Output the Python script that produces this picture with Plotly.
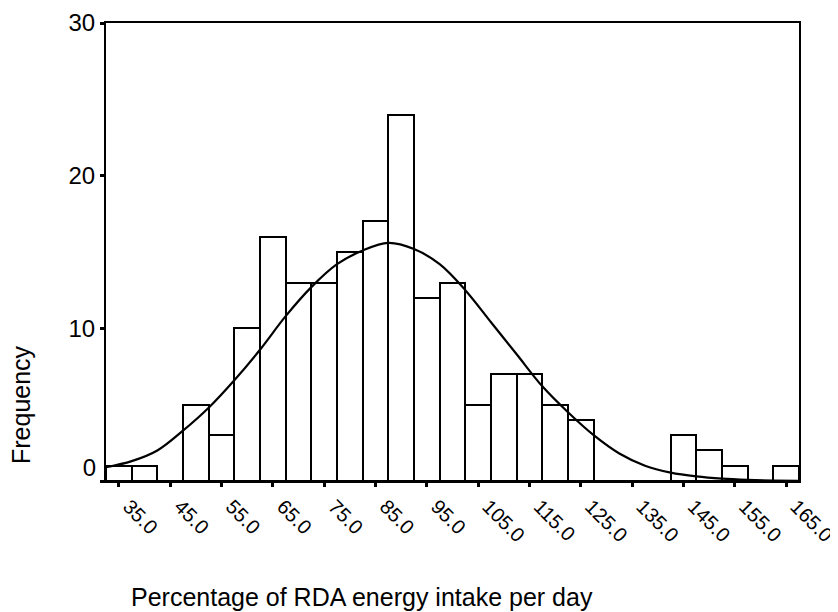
import plotly.graph_objects as go

# Histogram bins (centres, width 5) and frequencies
bin_centers = [35, 40, 45, 50, 55, 60, 65, 70, 75, 80, 85, 90, 95, 100, 105,
               110, 115, 120, 125, 130, 135, 140, 145, 150, 155, 160, 165]
frequencies = [1, 1, 0, 5, 3, 10, 16, 13, 13, 15, 17, 24, 12, 13, 5,
               7, 7, 5, 4, 0, 0, 0, 3, 2, 1, 0, 1]

# Fitted normal curve
curve_x = [32.5, 37.5, 42.5, 47.5, 52.5, 57.5, 62.5, 67.5, 72.5, 77.5, 82.5,
           87.5, 92.5, 97.5, 102.5, 107.5, 112.5, 117.5, 122.5, 127.5, 132.5,
           137.5, 142.5, 147.5, 152.5, 157.5, 162.5, 167.5]
curve_y = [0.9, 1.3, 2.0, 3.3, 4.8, 6.6, 8.6, 10.8, 12.7, 14.2, 15.1,
           15.6, 15.2, 14.2, 12.5, 10.4, 8.3, 6.2, 4.5, 3.0, 1.8,
           1.0, 0.55, 0.3, 0.15, 0.07, 0.03, 0.01]

x_tick_vals = [35, 45, 55, 65, 75, 85, 95, 105, 115, 125, 135, 145, 155, 165]
x_tick_text = ["35.0", "45.0", "55.0", "65.0", "75.0", "85.0", "95.0", "105.0",
               "115.0", "125.0", "135.0", "145.0", "155.0", "165.0"]
y_tick_vals = [0, 10, 20, 30]
y_tick_text = ["", "10", "20", "30"]

FONT = "Liberation Sans, Arial, sans-serif"

fig = go.Figure()
fig.add_trace(go.Bar(
    x=bin_centers, y=frequencies, width=5,
    marker=dict(color="white", line=dict(color="black", width=2)),
    showlegend=False, hoverinfo="x+y",
))
fig.add_trace(go.Scatter(
    x=curve_x, y=curve_y, mode="lines",
    line=dict(color="black", width=2.2, shape="spline"),
    showlegend=False,
))
# invisible trace on overlay axis carrying the raised "0" label
fig.add_trace(go.Scatter(x=[32.5], y=[0], yaxis="y2", mode="markers",
                         marker=dict(opacity=0), showlegend=False, hoverinfo="skip"))

fig.update_layout(
    width=830, height=604,
    margin=dict(l=98, r=39, t=15, b=131, autoexpand=False),
    paper_bgcolor="white", plot_bgcolor="white",
    bargap=0,
    font=dict(family=FONT, color="black"),
    xaxis=dict(
        range=[32.5, 167.5], tickvals=x_tick_vals, ticktext=x_tick_text,
        tickangle=45, tickfont=dict(size=20, family=FONT, color="black"),
        ticklabelshift=10,
        ticks="outside", ticklen=4, tickwidth=3, tickcolor="black",
        showline=True, linecolor="black", linewidth=2, mirror=True,
        showgrid=False, zeroline=False, automargin=False,
    ),
    yaxis=dict(
        range=[0, 30], tickvals=y_tick_vals, ticktext=y_tick_text,
        tickfont=dict(size=24, family=FONT, color="black"),
        ticks="outside", ticklen=4, tickwidth=3, tickcolor="black",
        showline=True, linecolor="black", linewidth=2, mirror=True,
        showgrid=False, zeroline=False, automargin=False,
    ),
    yaxis2=dict(
        overlaying="y", side="left", range=[0, 30],
        tickvals=[0.85], ticktext=["0"],
        tickfont=dict(size=24, family=FONT, color="black"),
        ticks="outside", ticklen=4, tickcolor="rgba(0,0,0,0)",
        showline=False, showgrid=False, zeroline=False, automargin=False,
    ),
    annotations=[
        dict(text="Percentage of RDA energy intake per day", xref="paper", yref="paper",
             x=(362 - 106) / 693, y=-(597 - 481) / 458, xanchor="center", yanchor="middle",
             showarrow=False, font=dict(size=25, family=FONT, color="black")),
        dict(text="Frequency", xref="paper", yref="paper",
             x=-(106 - 21) / 693, y=(481 - 405) / 458, xanchor="center", yanchor="middle",
             textangle=-90, showarrow=False,
             font=dict(size=25, family=FONT, color="black")),
    ],
)

fig.write_html("out.html")
